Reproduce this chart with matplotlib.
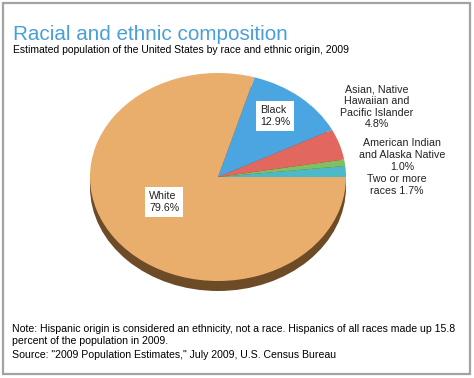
import matplotlib
matplotlib.use("Agg")
import matplotlib.pyplot as plt
from matplotlib.patches import Circle, Rectangle

# data (counter-clockwise from 3 o'clock)
categories = ["Two or more\nraces", "American Indian\nand Alaska Native", "Asian, Native\nHawaiian and\nPacific Islander",
              "Black", "White"]
shares = [1.7, 1.0, 4.8, 12.9, 79.6]
slice_colors = ["#4BBAC6", "#80C063", "#E2685F", "#4AA5E0", "#E9AE6B"]

title = "Racial and ethnic composition"
subtitle = "Estimated population of the United States by race and ethnic origin, 2009"
note = ("Note: Hispanic origin is considered an ethnicity, not a race. Hispanics of all races made up 15.8\n"
        "percent of the population in 2009.")
source = 'Source: "2009 Population Estimates," July 2009, U.S. Census Bureau'

W, H = 474, 378
plt.rcParams['font.family'] = ['Liberation Sans', 'DejaVu Sans']

fig = plt.figure(figsize=(W / 100, H / 100), dpi=100)


def fx(x):
    return x / W


def fy(y):
    return 1 - y / H


# frame around the whole graphic
fig.patches.append(Rectangle((fx(3), fy(374)), fx(467), 371 / H, transform=fig.transFigure,
                             fill=False, edgecolor="#A3A3A3", linewidth=1.6))

# pie axes: ellipse top face x 90..346, y 73..281, side down to 291
left, right, top, bottom = 90, 346, 73, 291
thick = 10 / 104
ax = fig.add_axes([fx(left), fy(bottom), (right - left) / W, (bottom - top) / H])
ax.add_patch(Circle((0, -thick), 1, facecolor="#6E4B27", edgecolor="none"))
ax.add_patch(Rectangle((-1, -thick), 2, thick, facecolor="#6E4B27", edgecolor="none"))
ax.pie(shares, colors=slice_colors, startangle=0, counterclock=True, radius=1,
       wedgeprops=dict(linewidth=0))
ax.set_aspect('auto')
ax.set_xlim(-1, 1)
ax.set_ylim(-1 - thick, 1)
ax.axis('off')

# titles
fig.text(fx(13), fy(40), title, fontsize=14.9, color="#4A9FD8", va='baseline')
fig.text(fx(13), fy(53), subtitle, fontsize=7.5, color="black", va='baseline')

lbl = dict(fontsize=7.7, color="#222222", linespacing=1.2)
box = dict(facecolor="white", edgecolor="none", pad=3)
fig.text(fx(260), fy(116), f"{categories[3]}\n{shares[3]}%", ha='left', va='center', bbox=box, **lbl)
fig.text(fx(149), fy(202), f"{categories[4]}\n{shares[4]}%", ha='left', va='center', bbox=box, **lbl)
fig.text(fx(377), fy(107), f"{categories[2]}\n{shares[2]}%", ha='center', va='center', **lbl)
fig.text(fx(402), fy(155), f"{categories[1]}\n{shares[1]}%", ha='center', va='center', **lbl)
fig.text(fx(397), fy(185), f"{categories[0]} {shares[0]}%", ha='center', va='center', **lbl)

fig.text(fx(12), fy(344), note, fontsize=7.55, va='baseline', linespacing=1.3)
fig.text(fx(12), fy(358), source, fontsize=7.55, va='baseline')

fig.savefig("out.png", dpi=100)
